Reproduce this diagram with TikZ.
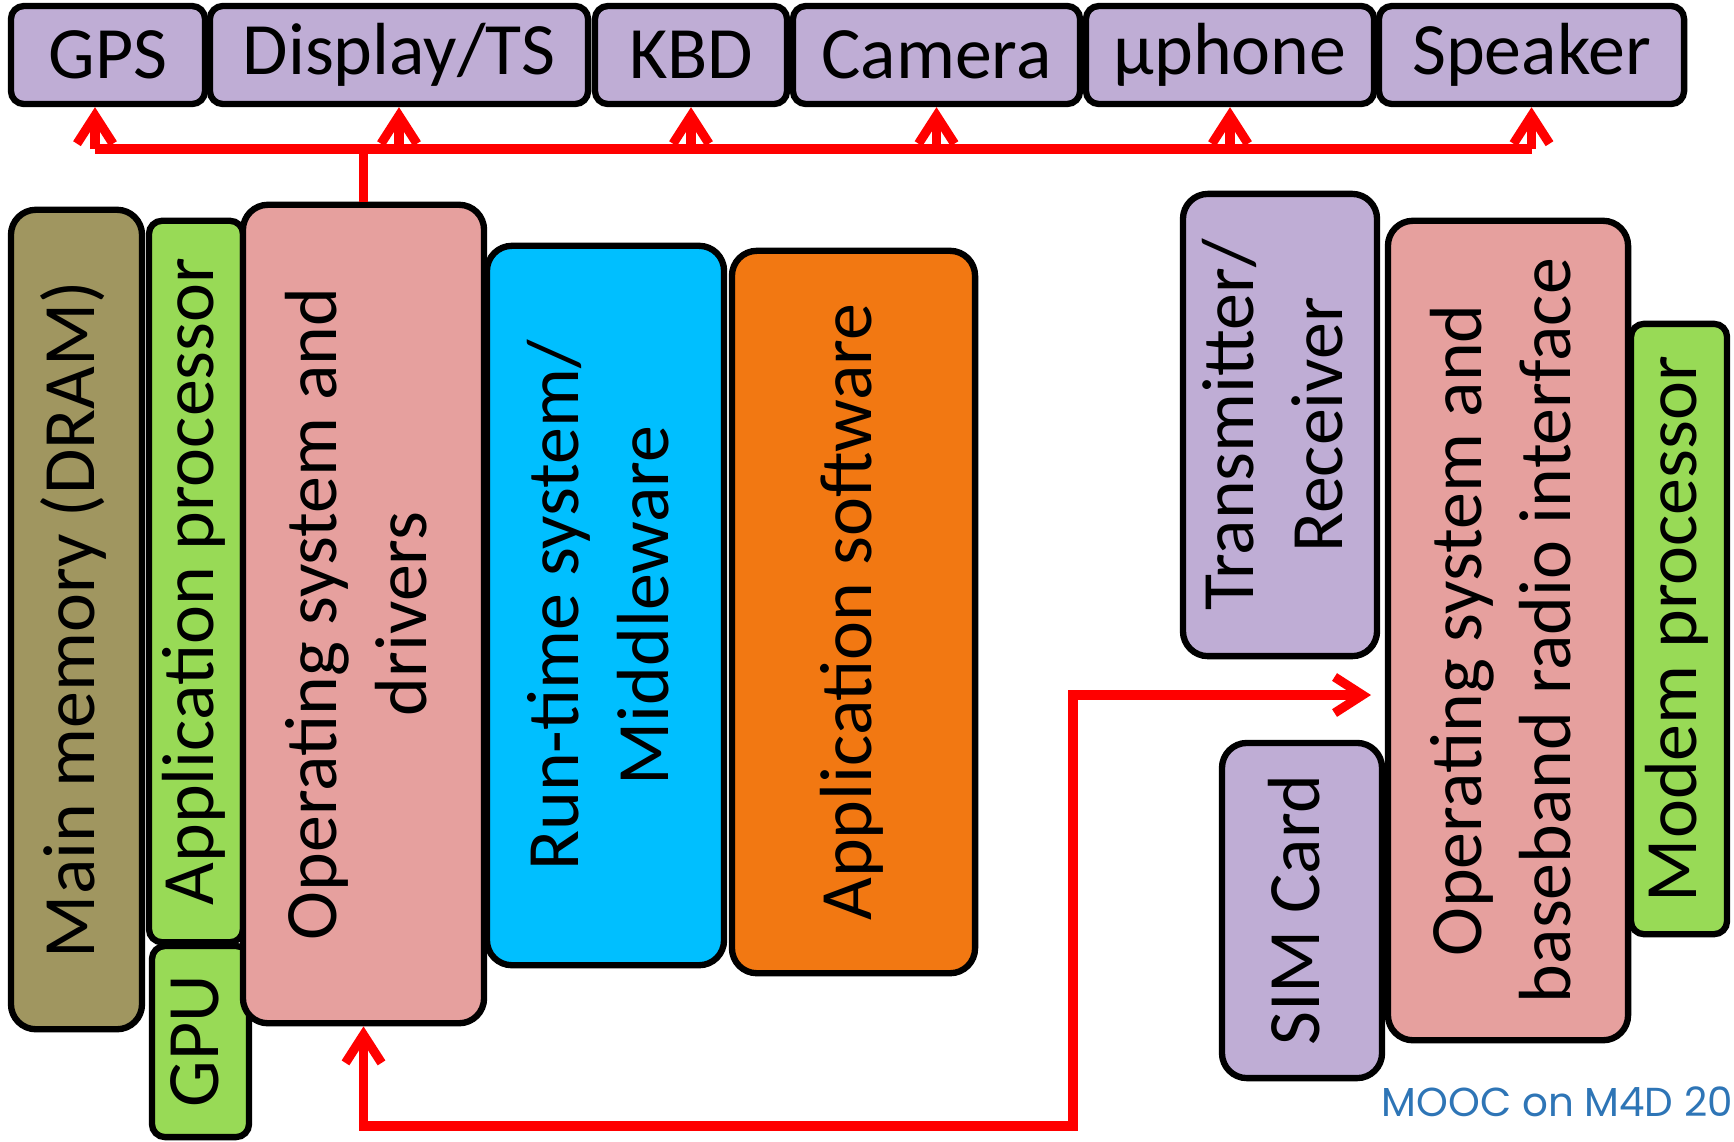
\documentclass[tikz,border=0pt]{standalone}
\usepackage{fontspec}
\setmainfont{Carlito}
\newfontfamily\wmfont{Poppins}
\usetikzlibrary{arrows.meta, calc}
\definecolor{lilac}{RGB}{191,173,213}
\definecolor{memcol}{RGB}{160,150,96}
\definecolor{cpucol}{RGB}{152,218,86}
\definecolor{oscol}{RGB}{230,160,158}
\definecolor{midcol}{RGB}{0,191,255}
\definecolor{appcol}{RGB}{242,120,18}
\definecolor{wmblue}{RGB}{46,117,182}
\newcommand{\vlabel}[1]{\rotatebox{90}{\begin{tabular}{@{}c@{}}#1\end{tabular}}}
\tikzset{
  block/.style={draw=black, line width=1.8pt, rounded corners=0.25cm, inner sep=0pt,
      font=\fontsize{21}{25.5}\selectfont},
  dims/.style 2 args={minimum width=#1cm, minimum height=#2cm},
  device/.style={block, fill=lilac, rounded corners=0.13cm},
  bus/.style={draw=red, line width=2.6pt},
  wmtext/.style={anchor=base west, inner sep=0pt, text=wmblue, font=\wmfont\fontsize{11.5}{14}\selectfont},
}

\begin{document}
\begin{tikzpicture}[x=0.01cm, y=-0.01cm, >={Straight Barb[length=0.28cm, width=0.36cm]}]
  \useasboundingbox (0,0) rectangle (1734,1141);
  \node[device, dims={1.94}{0.98}] (gps)  at (108,55)    {GPS};
  \node[device, dims={3.78}{0.98}] (disp) at (399,55)    {Display/TS};
  \node[device, dims={1.92}{0.98}] (kbd)  at (691,55)    {KBD};
  \node[device, dims={2.87}{0.98}] (cam)  at (936.5,55)  {Camera};
  \node[device, dims={2.88}{0.98}] (mic)  at (1230,55)   {µphone};
  \node[device, dims={3.05}{0.98}] (spk)  at (1531.5,55) {Speaker};

  \node[block, fill=memcol, dims={1.31}{8.19}] (mem) at (76.5,619.5)  {\vlabel{Main memory (DRAM)}};
  \node[block, fill=cpucol, rounded corners=0.13cm, dims={0.94}{7.21}] (app) at (196,581.5) {\vlabel{Application processor}};
  \node[block, fill=cpucol, rounded corners=0.13cm, dims={0.97}{1.91}] (gpu) at (200.5,1041.5) {\vlabel{GPU}};
  \node[block, fill=oscol, dims={2.41}{8.18}] (osd) at (363.5,614)   {\vlabel{Operating system and\\drivers}};
  \node[block, fill=midcol, dims={2.37}{7.19}] (mid) at (605.5,605.5) {\vlabel{Run-time system/\\Middleware}};
  \node[block, fill=appcol, dims={2.43}{7.22}] (asw) at (853.5,612)   {\vlabel{Application software}};

  \node[block, fill=lilac, dims={1.94}{4.62}] (trx) at (1280,425)   {\vlabel{Transmitter/\\Receiver}};
  \node[block, fill=lilac, dims={1.60}{3.35}] (sim) at (1302,910.5) {\vlabel{SIM Card}};
  \node[block, fill=oscol, dims={2.40}{8.19}] (bb)  at (1508,630.5) {\vlabel{Operating system and\\baseband radio interface}};
  \node[block, fill=cpucol, rounded corners=0.13cm, dims={0.96}{6.10}] (mdm) at (1679,629) {\vlabel{Modem processor}};

  \coordinate (busy) at (0,149);
  \coordinate (gpsin) at ([xshift=-0.13cm]gps.south);
  \draw[bus] (gpsin |- busy) -- (spk.south |- busy);
  \draw[bus] (osd.north) -- (osd.north |- busy);
  \foreach \n in {gpsin,disp.south,kbd.south,cam.south,mic.south,spk.south}
    \draw[bus,->] (\n |- busy) -- (\n);

  \coordinate (turn) at (1073,1126);
  \coordinate (rx) at (1371,695);
  \draw[bus,<->] (osd.south) |- (turn) |- (rx);

  \node[wmtext] (wm) at (1381,1116) {MOOC on M4D 20};
\end{tikzpicture}
\end{document}
